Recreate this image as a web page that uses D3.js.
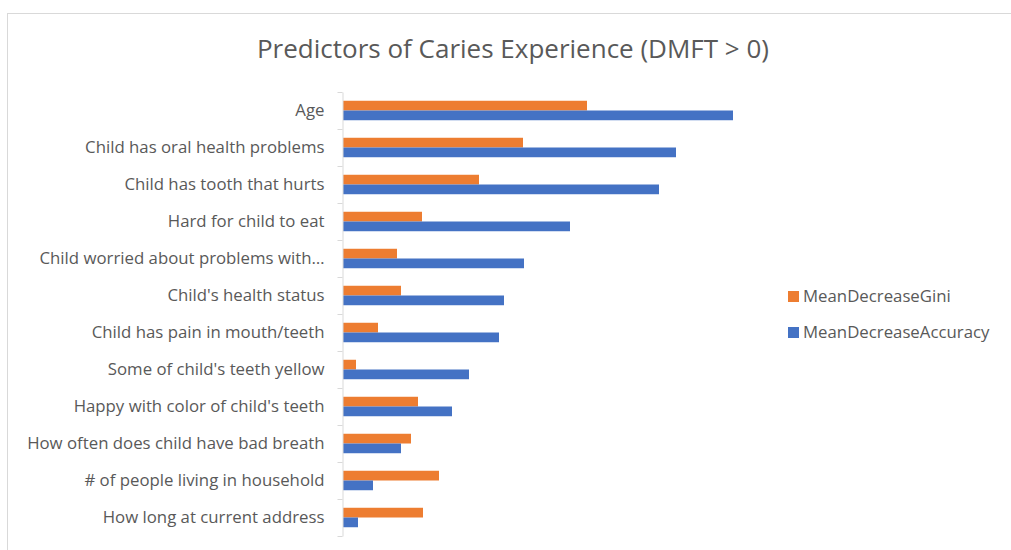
<!DOCTYPE html>
<html>
<head>
<meta charset="utf-8">
<script src="https://cdn.jsdelivr.net/npm/d3@7"></script>
<style>
  body { margin: 0; background: #fff; }
  svg text { font-family: 'Open Sans', sans-serif; fill: #595959; }
</style>
</head>
<body>
<svg id="chart" width="1011" height="550"></svg>
<script>
// predictors, top to bottom
const categories = [
  'Age',
  'Child has oral health problems',
  'Child has tooth that hurts',
  'Hard for child to eat',
  'Child worried about problems with\u2026',
  "Child's health status",
  'Child has pain in mouth/teeth',
  "Some of child's teeth yellow",
  "Happy with color of child's teeth",
  'How often does child have bad breath',
  '# of people living in household',
  'How long at current address'
];
const seriesNames = ['MeanDecreaseGini', 'MeanDecreaseAccuracy'];
const gini = [24.4, 18.0, 13.6, 7.9, 5.4, 5.8, 3.5, 1.3, 7.5, 6.8, 9.6, 8.0];
const accuracy = [39.0, 33.3, 31.6, 22.7, 18.1, 16.1, 15.6, 12.6, 10.9, 5.8, 3.0, 1.5];
const colors = ['#ed7d31', '#4472c4'];

const svg = d3.select('#chart');
const margin = { top: 92, left: 342.5 };
const plotH = 444;

// chart frame
svg.append('rect')
  .attr('x', 7.5).attr('y', 13.5)
  .attr('width', 1100).attr('height', 600)
  .attr('fill', 'none').attr('stroke', '#d9d9d9');

svg.append('text')
  .attr('x', 513).attr('y', 58)
  .attr('text-anchor', 'middle')
  .style('font-size', '26px')
  .text('Predictors of Caries Experience (DMFT > 0)');

const x = d3.scaleLinear().domain([0, 40]).range([0, 400]);
const y = d3.scaleBand().domain(categories).range([0, plotH]);
const y1 = d3.scaleBand().domain(seriesNames).range([0, y.bandwidth()]).paddingOuter(0.9);

const g = svg.append('g').attr('transform', `translate(${margin.left},${margin.top})`);

const rows = categories.map((c, i) => ({ cat: c, vals: [gini[i], accuracy[i]] }));

const grp = g.selectAll('.row').data(rows).enter().append('g')
  .attr('class', 'row')
  .attr('transform', d => `translate(0,${y(d.cat)})`);

grp.selectAll('rect')
  .data(d => d.vals.map((v, k) => ({ key: seriesNames[k], v, k })))
  .enter().append('rect')
  .attr('x', 0.5)
  .attr('y', d => y1(d.key))
  .attr('width', d => x(d.v))
  .attr('height', y1.bandwidth())
  .attr('fill', d => colors[d.k]);

// tick marks at category boundaries
const tickScale = d3.scaleLinear().domain([0, categories.length]).range([0, plotH]);
const tk = g.append('g')
  .call(d3.axisLeft(tickScale).tickValues(d3.range(categories.length + 1)).tickSize(5).tickSizeOuter(0).tickFormat(''));
tk.selectAll('line, path').attr('stroke', '#d9d9d9');

// category labels
const lab = g.append('g')
  .call(d3.axisLeft(y).tickSize(0).tickPadding(18));
lab.select('.domain').remove();
lab.selectAll('text')
  .style('font-size', '16.8px')
  .style('font-family', "'Open Sans', sans-serif")
  .attr('fill', '#595959');

// legend
const leg = svg.append('g').attr('transform', 'translate(788,291)');
seriesNames.forEach((s, i) => {
  const li = leg.append('g').attr('transform', `translate(0,${i * 36})`);
  li.append('rect').attr('width', 11).attr('height', 11).attr('fill', colors[i]);
  li.append('text').attr('x', 15).attr('y', 11)
    .style('font-size', '16.8px').text(s);
});
</script>
</body>
</html>
